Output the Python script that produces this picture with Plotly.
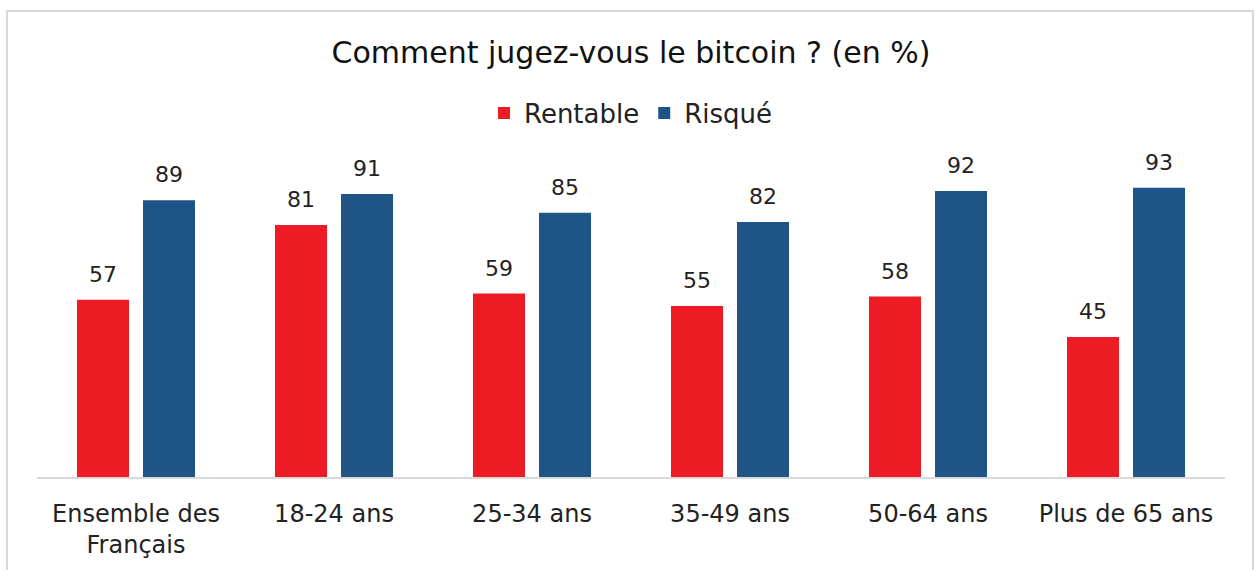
import plotly.graph_objects as go

categories = ["Ensemble des<br>Français", "18-24 ans", "25-34 ans", "35-49 ans", "50-64 ans", "Plus de 65 ans"]
rentable = [57, 81, 59, 55, 58, 45]
risque = [89, 91, 85, 82, 92, 93]

RED = "#ED1C24"
BLUE = "#1F5586"
FONT = "Century Gothic, DejaVu Sans, sans-serif"

fig = go.Figure()
fig.add_trace(go.Bar(x=categories, y=rentable, name="Rentable", marker=dict(color=RED, line=dict(width=0))))
fig.add_trace(go.Bar(x=categories, y=risque, name="Risqué", marker=dict(color=BLUE, line=dict(width=0))))

for vals, shift in ((rentable, -33), (risque, 33)):
    for c, v in zip(categories, vals):
        fig.add_annotation(x=c, y=v, text=str(v), showarrow=False, xshift=shift, yshift=11,
                           yanchor="bottom", font=dict(family=FONT, size=22, color="#222222"))

# outer chart border
fig.add_shape(type="path", xref="paper", yref="paper",
              path="M -0.0253,-0.4 L -0.0253,1.4984 L 1.0236,1.4984 L 1.0236,-0.4",
              line=dict(color="#d9d9d9", width=2))

fig.update_layout(
    width=1255, height=570,
    margin=dict(l=37, r=30, t=166, b=93),
    paper_bgcolor="white", plot_bgcolor="white",
    barmode="group", bargap=0.333, bargroupgap=0.212,
    title=dict(text="Comment jugez-vous le bitcoin ? (en %)", x=631 / 1255, xanchor="center",
               y=1 - 52 / 570, yanchor="middle",
               font=dict(family=FONT, size=30, color="#111111")),
    legend=dict(orientation="h", x=0.5, xanchor="center", y=1.17, yanchor="middle",
                font=dict(family=FONT, size=26, color="#222222"), itemwidth=30),
    xaxis=dict(showline=True, linecolor="#d9d9d9", linewidth=2, ticks="outside", ticklen=14,
               tickcolor="rgba(0,0,0,0)", tickfont=dict(family=FONT, size=24, color="#222222"),
               showgrid=False, fixedrange=True),
    yaxis=dict(range=[0, 100], visible=False, showgrid=False, fixedrange=True),
    showlegend=True,
)

fig.write_html("out.html", config={"displayModeBar": False},
               post_script="document.body.style.margin='0px';document.body.style.overflow='hidden';")
